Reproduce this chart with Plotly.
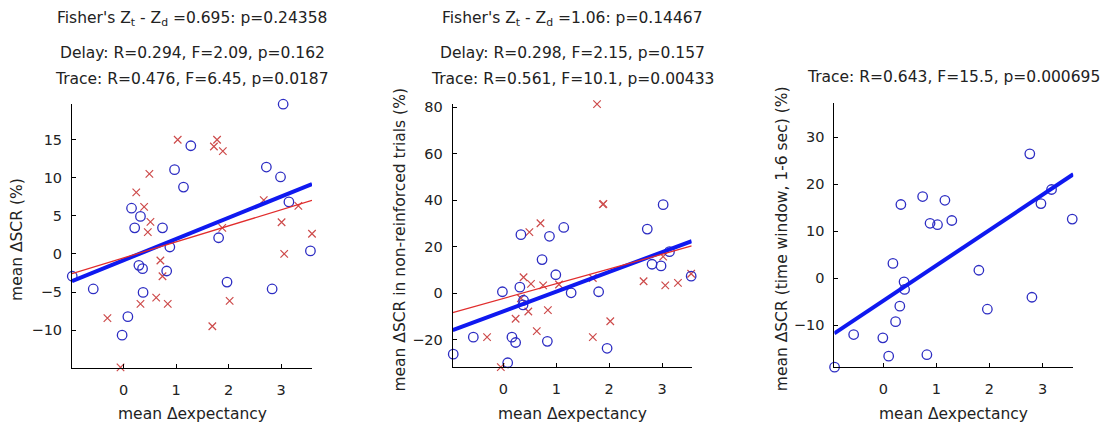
import plotly.graph_objects as go

W, H = 1107, 426
FONT = "DejaVu Sans"

# ---------------- data ----------------
# Panel 1: mean dSCR (%) vs mean d expectancy
p1_trace_x = [3.04, 1.28, 0.97, 1.14, 2.72, 2.99, 3.15, 0.15, 0.32, 0.21, 0.74, 1.81,
              0.88, 3.56, -0.98, -0.58, 0.29, 0.36, 0.82, 0.37, 0.08, -0.03, 1.97, 2.83]
p1_trace_y = [19.65, 14.2, 11.06, 8.77, 11.4, 10.1, 6.83, 6.0, 4.92, 3.42, 3.42, 2.12,
              0.91, 0.39, -2.93, -4.6, -1.5, -1.94, -2.24, -5.05, -8.24, -10.66, -3.7, -4.6]
p1_delay_x = [1.03, 1.78, 1.72, 1.89, 0.49, 0.24, 0.39, 0.51, 0.46, 1.88, 2.67, 3.01,
              3.33, 3.59, 3.06, 0.70, 0.74, 0.62, 0.32, 0.84, -0.31, 2.02, 1.69, -0.06]
p1_delay_y = [14.99, 14.99, 14.1, 13.5, 10.5, 8.08, 6.18, 4.2, 2.85, 3.42, 7.05, 4.15,
              6.3, 2.64, 0.0, -0.86, -2.93, -5.74, -6.56, -6.56, -8.42, -6.17, -9.5, -14.9]
p1_fit_trace = [2.784, -0.824]   # slope, intercept
p1_fit_delay = [2.10, -0.52]

# Panel 2: mean dSCR in non-reinforced trials (%)
p2_trace_x = [0.33, 0.87, 1.14, 2.72, 3.02, 0.73, 0.99, 0.31, -0.02, 1.28, 1.80, 0.38,
              0.37, 2.81, 2.98, 3.14, 3.55, -0.57, 0.16, 0.23, 0.83, 1.96, -0.95, 0.08]
p2_trace_y = [25.2, 24.5, 28.3, 27.6, 38.1, 14.5, 8.0, 2.66, 0.68, 0.25, 0.68, -2.96,
              -4.95, 12.5, 11.8, 17.9, 7.4, -18.8, -18.8, -21.1, -20.6, -23.6, -26.1, -29.8]
p2_delay_x = [1.77, 1.88, 1.89, 0.70, 0.49, 0.38, 0.52, 0.75, 1.05, 1.69, 2.65, 3.06,
              3.30, 3.55, 3.02, 0.33, 0.47, 0.84, 0.23, 0.63, -0.31, 1.69, 2.02, -0.05]
p2_delay_y = [81.3, 38.2, 38.4, 30.1, 26.3, 6.9, 4.1, 3.4, 3.8, 6.6, 5.2, 3.4,
              4.5, 8.4, 15.8, -2.1, -7.8, -7.2, -10.9, -16.2, -18.8, -18.8, -12.0, -31.7]
p2_fit_trace = [8.45, -7.67]
p2_fit_delay = [6.33, -2.19]

# Panel 3: mean dSCR (time window, 1-6 sec) (%), trace only
p3_trace_x = [2.76, 3.17, 2.97, 3.56, 0.33, 0.74, 1.16, 0.88, 1.02, 1.29, 0.18, 0.39,
              0.40, 0.31, 0.23, 1.80, 1.96, 2.80, -0.56, -0.01, 0.10, 0.82, -0.92]
p3_trace_y = [26.5, 18.9, 15.9, 12.6, 15.7, 17.4, 16.6, 11.7, 11.4, 12.3, 3.16, -0.77,
              -2.4, -5.96, -9.26, 1.7, -6.6, -4.06, -12.0, -12.7, -16.6, -16.3, -18.95]
p3_fit_trace = [7.53, -4.8]

x_ticks = [0, 1, 2, 3]
p1_yticks = [-10, -5, 0, 5, 10, 15]
p2_yticks = [-20, 0, 20, 40, 60, 80]
p3_yticks = [-10, 0, 10, 20, 30]

p1_title = ["Fisher's Z<sub>t</sub> - Z<sub>d</sub> =0.695: p=0.24358",
            "Delay: R=0.294, F=2.09, p=0.162",
            "Trace: R=0.476, F=6.45, p=0.0187"]
p2_title = ["Fisher's Z<sub>t</sub> - Z<sub>d</sub> =1.06: p=0.14467",
            "Delay: R=0.298, F=2.15, p=0.157",
            "Trace: R=0.561, F=10.1, p=0.00433"]
p3_title = ["Trace: R=0.643, F=15.5, p=0.000695"]

x_label = "mean \u0394expectancy"
y_labels = ["mean \u0394SCR (%)",
            "mean \u0394SCR in non-reinforced trials (%)",
            "mean \u0394SCR (time window, 1-6 sec) (%)"]

# ---------------- layout geometry (pixels) ----------------
panels = [
    dict(x0=72, x1=312, y0=100, y1=367.5, xr=[-0.985, 3.59], yr=[-15.0, 19.7],
         yt=p1_yticks, title=p1_title, lab_x=17),
    dict(x0=452.7, x1=691.7, y0=100, y1=366.7, xr=[-0.96, 3.56], yr=[-31.8, 81.4],
         yt=p2_yticks, title=p2_title, lab_x=400),
    dict(x0=834.3, x1=1073.3, y0=99.3, y1=366.7, xr=[-0.925, 3.58], yr=[-19.0, 37.3],
         yt=p3_yticks, title=p3_title, lab_x=782),
]

BLUE_PT = "rgb(45,45,195)"
BLUE_LN = "rgb(15,25,240)"
RED_PT = "rgb(205,75,75)"
RED_LN = "rgb(225,45,45)"
TXT = "#222"

fig = go.Figure()

def add_points(i, xs, ys, kind):
    ax = "" if i == 0 else str(i + 1)
    if kind == "trace":
        m = dict(symbol="circle-open", size=9.5, color=BLUE_PT, line=dict(width=1.3, color=BLUE_PT))
    else:
        m = dict(symbol="x-thin-open", size=7.5, color=RED_PT, line=dict(width=1.2, color=RED_PT))
    fig.add_trace(go.Scatter(x=xs, y=ys, mode="markers", marker=m, cliponaxis=False,
                             xaxis="x" + ax, yaxis="y" + ax, showlegend=False,
                             hoverinfo="skip"))

def add_fit(i, fit, xr, color, width):
    ax = "" if i == 0 else str(i + 1)
    xs = [xr[0], xr[1]]
    ys = [fit[0] * v + fit[1] for v in xs]
    fig.add_trace(go.Scatter(x=xs, y=ys, mode="lines", line=dict(color=color, width=width),
                             cliponaxis=False,
                             xaxis="x" + ax, yaxis="y" + ax, showlegend=False,
                             hoverinfo="skip"))

add_points(0, p1_delay_x, p1_delay_y, "delay")
add_points(0, p1_trace_x, p1_trace_y, "trace")
add_fit(0, p1_fit_trace, panels[0]["xr"], BLUE_LN, 4)
add_fit(0, p1_fit_delay, panels[0]["xr"], RED_LN, 1.3)

add_points(1, p2_delay_x, p2_delay_y, "delay")
add_points(1, p2_trace_x, p2_trace_y, "trace")
add_fit(1, p2_fit_trace, panels[1]["xr"], BLUE_LN, 4)
add_fit(1, p2_fit_delay, panels[1]["xr"], RED_LN, 1.3)

add_points(2, p3_trace_x, p3_trace_y, "trace")
add_fit(2, p3_fit_trace, panels[2]["xr"], BLUE_LN, 4)

layout = dict(width=W, height=H, margin=dict(l=0, r=0, t=0, b=0),
              paper_bgcolor="white", plot_bgcolor="white",
              font=dict(family=FONT, size=14, color=TXT))
annotations = []
title_rows = {3: [14, 49, 75], 1: [73]}
for i, p in enumerate(panels):
    ax = "" if i == 0 else str(i + 1)
    xd = [p["x0"] / W, p["x1"] / W]
    yd = [1 - p["y1"] / H, 1 - p["y0"] / H]
    common = dict(showgrid=False, zeroline=False, showline=True, linecolor="black",
                  linewidth=1, ticks="inside", ticklen=4, tickcolor="black",
                  tickfont=dict(family=FONT, size=14.5, color=TXT))
    layout["xaxis" + ax] = dict(domain=xd, range=p["xr"], tickvals=x_ticks,
                                anchor="y" + ax, ticklabelstandoff=8, **common)
    layout["yaxis" + ax] = dict(domain=yd, range=p["yr"], tickvals=p["yt"],
                                anchor="x" + ax, ticklabelstandoff=6, **common)
    cx = (p["x0"] + p["x1"]) / 2
    rows = title_rows[len(p["title"])]
    for t, yy in zip(p["title"], rows):
        annotations.append(dict(text=t, x=cx / W, y=1 - yy / H, xref="paper", yref="paper",
                                xanchor="center", yanchor="middle", showarrow=False,
                                font=dict(family=FONT, size=15.5, color=TXT)))
    annotations.append(dict(text=x_label, x=cx / W, y=1 - 414 / H, xref="paper", yref="paper",
                            xanchor="center", yanchor="middle", showarrow=False,
                            font=dict(family=FONT, size=15.5, color=TXT)))
    cy = (p["y0"] + p["y1"]) / 2 + 4
    annotations.append(dict(text=y_labels[i], x=p["lab_x"] / W, y=1 - cy / H,
                            xref="paper", yref="paper", xanchor="center", yanchor="middle",
                            textangle=-90, showarrow=False,
                            font=dict(family=FONT, size=15.5, color=TXT)))
layout["annotations"] = annotations
fig.update_layout(**layout)

fig.write_html("out.html")
